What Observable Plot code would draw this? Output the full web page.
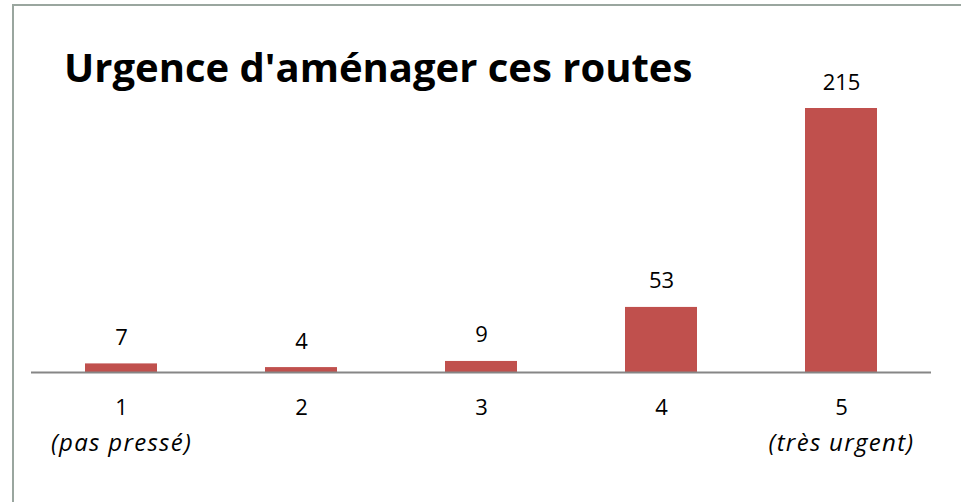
<!DOCTYPE html>
<html>
<head>
<meta charset="utf-8">
<script src="https://cdn.jsdelivr.net/npm/d3@7"></script>
<script src="https://cdn.jsdelivr.net/npm/@observablehq/plot@0.6"></script>
<style>
  html, body { margin: 0; padding: 0; background: #fff; }
  #wrap { position: relative; width: 961px; height: 502px; overflow: hidden; font-family: "Open Sans", sans-serif; }
  #frame { position: absolute; left: 12px; top: 4px; width: 960px; height: 510px; border-left: 2px solid #9aa69f; border-top: 2px solid #9aa69f; box-sizing: border-box; }
  #title { position: absolute; left: 64px; top: 47px; font-size: 40px; font-weight: 700; color: #000; white-space: nowrap; line-height: 1; }
  #chart { position: absolute; left: 0; top: 0; }
  .sub text { letter-spacing: 1.3px; }
</style>
</head>
<body>
<div id="wrap">
  <div id="frame"></div>
  <div id="chart"></div>
  <div id="title">Urgence d'aménager ces routes</div>
</div>
<script>
const categories = ["1", "2", "3", "4", "5"];
const values = [7, 4, 9, 53, 215];
const sublabels = ["(pas pressé)", "", "", "", "(très urgent)"];

const data = categories.map((c, i) => ({cat: c, value: values[i], sub: sublabels[i]}));

const chart = Plot.plot({
  width: 961,
  height: 502,
  marginLeft: 31,
  marginRight: 30,
  marginTop: 108,
  marginBottom: 130,
  style: {fontFamily: "'Open Sans', sans-serif", background: "transparent", overflow: "visible"},
  x: {domain: categories, paddingInner: 0.6, paddingOuter: 0.3, axis: null},
  y: {domain: [0, 215], axis: null},
  marks: [
    Plot.barY(data, {x: "cat", y: "value", fill: "#C0504D"}),
    Plot.ruleY([0], {stroke: "#868686", strokeWidth: 2}),
    Plot.text(data, {x: "cat", y: "value", text: d => String(d.value), dy: -26, lineAnchor: "middle", fontSize: 22, fill: "#000"}),
    Plot.text(data, {x: "cat", frameAnchor: "bottom", text: "cat", dy: 35, lineAnchor: "middle", fontSize: 22, fill: "#000"}),
    Plot.text(data.filter(d => d.sub), {x: "cat", frameAnchor: "bottom", text: "sub", dy: 71, lineAnchor: "middle", fontSize: 24, fontStyle: "italic", fill: "#000"})
  ]
});
// tag the italic sub-label group for letter spacing
const groups = chart.querySelectorAll("g[aria-label='text']");
if (groups.length) groups[groups.length - 1].classList.add("sub");
document.getElementById("chart").appendChild(chart);
</script>
</body>
</html>
